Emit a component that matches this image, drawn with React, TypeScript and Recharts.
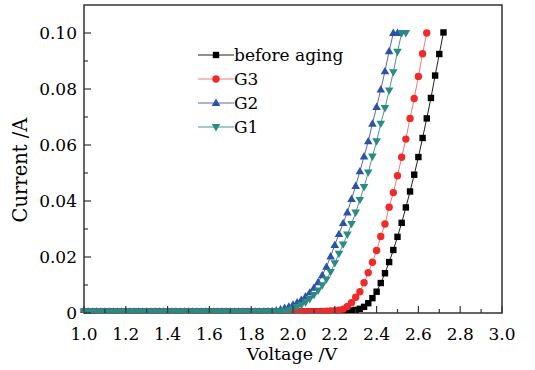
import React from 'react';
import { LineChart, Line, XAxis, YAxis, ReferenceArea, Legend } from 'recharts';

// voltage grid (V), one entry per measured point
const voltage = [
  1.0, 1.02, 1.04, 1.06, 1.08, 1.1, 1.12, 1.14, 1.16, 1.18,
  1.2, 1.22, 1.24, 1.26, 1.28, 1.3, 1.32, 1.34, 1.36, 1.38,
  1.4, 1.42, 1.44, 1.46, 1.48, 1.5, 1.52, 1.54, 1.56, 1.58,
  1.6, 1.62, 1.64, 1.66, 1.68, 1.7, 1.72, 1.74, 1.76, 1.78,
  1.8, 1.82, 1.84, 1.86, 1.88, 1.9, 1.92, 1.94, 1.96, 1.98,
  2.0, 2.02, 2.04, 2.06, 2.08, 2.1, 2.12, 2.14, 2.16, 2.18,
  2.2, 2.22, 2.24, 2.26, 2.28, 2.3, 2.32, 2.34, 2.36, 2.38,
  2.4, 2.42, 2.44, 2.46, 2.48, 2.5, 2.52, 2.54, 2.56, 2.58,
  2.6, 2.62, 2.64, 2.66, 2.68, 2.7, 2.72,
];

// current (A)
const beforeAging = [
  0.0005, 0.0005, 0.0005, 0.0005, 0.0005, 0.0005, 0.0005, 0.0005, 0.0005, 0.0005,
  0.0005, 0.0005, 0.0005, 0.0005, 0.0005, 0.0005, 0.0005, 0.0005, 0.0005, 0.0005,
  0.0005, 0.0005, 0.0005, 0.0005, 0.0005, 0.0005, 0.0005, 0.0005, 0.0005, 0.0005,
  0.0005, 0.0005, 0.0005, 0.0005, 0.0005, 0.0005, 0.0005, 0.0005, 0.0005, 0.0005,
  0.0005, 0.0005, 0.0005, 0.0005, 0.0005, 0.0005, 0.0005, 0.0005, 0.0005, 0.0005,
  0.0005, 0.0005, 0.0005, 0.0005, 0.0005, 0.0005, 0.0005, 0.0005, 0.0005, 0.0005,
  0.0005, 0.0005, 0.0006, 0.0007, 0.0009, 0.0011, 0.0015, 0.0022, 0.0035, 0.0053,
  0.0076, 0.0107, 0.0142, 0.0182, 0.0225, 0.0272, 0.0322, 0.0377, 0.0434, 0.0494,
  0.0557, 0.0625, 0.0695, 0.0768, 0.0848, 0.0925, 0.1002,
];

const g3 = [
  0.0005, 0.0005, 0.0005, 0.0005, 0.0005, 0.0005, 0.0005, 0.0005, 0.0005, 0.0005,
  0.0005, 0.0005, 0.0005, 0.0005, 0.0005, 0.0005, 0.0005, 0.0005, 0.0005, 0.0005,
  0.0005, 0.0005, 0.0005, 0.0005, 0.0005, 0.0005, 0.0005, 0.0005, 0.0005, 0.0005,
  0.0005, 0.0005, 0.0005, 0.0005, 0.0005, 0.0005, 0.0005, 0.0005, 0.0005, 0.0005,
  0.0005, 0.0005, 0.0005, 0.0005, 0.0005, 0.0005, 0.0005, 0.0005, 0.0005, 0.0005,
  0.0005, 0.0005, 0.0005, 0.0005, 0.0005, 0.0005, 0.0005, 0.0005, 0.0006, 0.0007,
  0.0008, 0.001, 0.0014, 0.0023, 0.0037, 0.0056, 0.0076, 0.0108, 0.0144, 0.0181,
  0.0223, 0.0273, 0.0318, 0.0378, 0.043, 0.049, 0.0556, 0.0621, 0.0695, 0.0766,
  0.0845, 0.0926, 0.1, null, null, null, null,
];

const g2 = [
  0.0005, 0.0005, 0.0005, 0.0005, 0.0005, 0.0005, 0.0005, 0.0005, 0.0005, 0.0005,
  0.0005, 0.0005, 0.0005, 0.0005, 0.0005, 0.0005, 0.0005, 0.0005, 0.0005, 0.0005,
  0.0005, 0.0005, 0.0005, 0.0005, 0.0005, 0.0005, 0.0005, 0.0005, 0.0005, 0.0005,
  0.0005, 0.0005, 0.0005, 0.0005, 0.0005, 0.0005, 0.0005, 0.0005, 0.0005, 0.0005,
  0.0005, 0.0005, 0.0005, 0.0005, 0.0006, 0.0007, 0.0009, 0.0013, 0.0018, 0.0023,
  0.003, 0.0038, 0.0047, 0.0059, 0.0073, 0.009, 0.011, 0.0135, 0.0165, 0.0202,
  0.0243, 0.0282, 0.0321, 0.0359, 0.0407, 0.0454, 0.0506, 0.0559, 0.0613, 0.0676,
  0.0736, 0.0798, 0.0863, 0.0935, 0.1, 0.1, null, null, null, null,
  null, null, null, null, null, null, null,
];

const g1 = [
  0.0005, 0.0005, 0.0005, 0.0005, 0.0005, 0.0005, 0.0005, 0.0005, 0.0005, 0.0005,
  0.0005, 0.0005, 0.0005, 0.0005, 0.0005, 0.0005, 0.0005, 0.0005, 0.0005, 0.0005,
  0.0005, 0.0005, 0.0005, 0.0005, 0.0005, 0.0005, 0.0005, 0.0005, 0.0005, 0.0005,
  0.0005, 0.0005, 0.0005, 0.0005, 0.0005, 0.0005, 0.0005, 0.0005, 0.0005, 0.0005,
  0.0005, 0.0005, 0.0005, 0.0005, 0.0005, 0.0005, 0.0005, 0.0005, 0.0006, 0.001,
  0.0015, 0.0021, 0.0029, 0.0038, 0.005, 0.0064, 0.008, 0.0099, 0.012, 0.0146,
  0.0178, 0.0212, 0.0245, 0.028, 0.0318, 0.0359, 0.0404, 0.045, 0.0502, 0.0559,
  0.0613, 0.0676, 0.0732, 0.0795, 0.086, 0.0933, 0.1, 0.1, null, null,
  null, null, null, null, null, null, null,
];

const xTicks = [
  1.0, 1.1, 1.2, 1.3, 1.4, 1.5, 1.6, 1.7, 1.8, 1.9, 2.0,
  2.1, 2.2, 2.3, 2.4, 2.5, 2.6, 2.7, 2.8, 2.9, 3.0,
];
const yTicks = [0, 0.01, 0.02, 0.03, 0.04, 0.05, 0.06, 0.07, 0.08, 0.09, 0.1];

const FONT = '"DejaVu Serif", serif';
const AXIS = '#333';
const TEXT = '#000';

const series = [
  { key: 'before', name: 'before aging', shape: 'square', color: '#000000', line: '#222222' },
  { key: 'g3', name: 'G3', shape: 'circle', color: '#ee2a2a', line: '#f07a6e' },
  { key: 'g2', name: 'G2', shape: 'up', color: '#2c52a8', line: '#5468b8' },
  { key: 'g1', name: 'G1', shape: 'down', color: '#2b8a83', line: '#45998f' },
];

const data = voltage.map((v, i) => ({
  v,
  before: beforeAging[i],
  g3: g3[i],
  g2: g2[i],
  g1: g1[i],
}));

const Marker = ({ shape, cx, cy, color }: any) => {
  if (shape === 'square') {
    return <rect x={cx - 3.2} y={cy - 3.2} width={6.4} height={6.4} fill={color} />;
  }
  if (shape === 'circle') {
    return <circle cx={cx} cy={cy} r={3.7} fill={color} />;
  }
  if (shape === 'up') {
    return <polygon points={`${cx},${cy - 4.4} ${cx - 4.3},${cy + 3} ${cx + 4.3},${cy + 3}`} fill={color} />;
  }
  return <polygon points={`${cx},${cy + 4.4} ${cx - 4.3},${cy - 3} ${cx + 4.3},${cy - 3}`} fill={color} />;
};

const makeDot = (shape: string, color: string) => (props: any) => {
  const { cx, cy, index, value } = props;
  if (cx == null || cy == null || value == null) return <g key={`d-${index}`} />;
  return (
    <g key={`d-${index}`}>
      <Marker shape={shape} cx={cx} cy={cy} color={color} />
    </g>
  );
};

const XTick = ({ x, y, payload }: any) => {
  const v = payload.value;
  const major = Math.round(v * 10) % 2 === 0;
  return (
    <g>
      <line x1={x} x2={x} y1={y} y2={y - (major ? 7 : 4)} stroke={AXIS} strokeWidth={1.2} />
      {major && (
        <text x={x} y={y + 27} textAnchor="middle" fontSize={17} fontFamily={FONT} fill={TEXT}>
          {v.toFixed(1)}
        </text>
      )}
    </g>
  );
};

const YTick = ({ x, y, payload }: any) => {
  const v = payload.value;
  const major = Math.round(v * 100) % 2 === 0;
  return (
    <g>
      <line x1={x} x2={x + (major ? 7 : 4)} y1={y} y2={y} stroke={AXIS} strokeWidth={1.2} />
      {major && (
        <text x={x - 7} y={y} dy={6} textAnchor="end" fontSize={17} fontFamily={FONT} fill={TEXT}>
          {v === 0 ? '0' : v.toFixed(2)}
        </text>
      )}
    </g>
  );
};

const renderLegend = () => (
  <div style={{ fontFamily: FONT, fontSize: 17, color: TEXT }}>
    {series.map((s) => (
      <div key={s.key} style={{ display: 'flex', alignItems: 'center', height: 24 }}>
        <svg width={36} height={12} style={{ display: 'block' }}>
          <line x1={0} x2={36} y1={6} y2={6} stroke={s.line} strokeWidth={1} />
          <Marker shape={s.shape} cx={18} cy={6} color={s.color} />
        </svg>
        <span style={{ lineHeight: '24px' }}>{s.name}</span>
      </div>
    ))}
  </div>
);

export default function App() {
  return (
    <div style={{ position: 'absolute', left: 0, top: 0, background: '#fff' }}>
      <LineChart
        width={535}
        height={370}
        data={data}
        margin={{ top: 5, right: 33, bottom: 0, left: 0 }}
      >
        <XAxis
          dataKey="v"
          type="number"
          domain={[1, 3]}
          ticks={xTicks}
          interval={0}
          tickSize={0}
          tickMargin={0}
          tickLine={false}
          axisLine={false}
          tick={<XTick />}
          height={57}
          label={() => (
            <text x={292} y={360} textAnchor="middle" fontSize={17.5} fontFamily={FONT} fill={TEXT}>
              Voltage /V
            </text>
          )}
        />
        <YAxis
          type="number"
          domain={[0, 0.11]}
          allowDataOverflow
          ticks={yTicks}
          interval={0}
          tickSize={0}
          tickMargin={0}
          tickLine={false}
          axisLine={false}
          tick={<YTick />}
          width={84}
          label={() => (
            <text
              x={20}
              y={170}
              transform="rotate(-90 20 170)"
              textAnchor="middle"
              dominantBaseline="central"
              fontSize={19.5}
              fontFamily={FONT}
              fill={TEXT}
            >
              Current /A
            </text>
          )}
        />
        <ReferenceArea x1={1} x2={3} y1={0} y2={0.11} fill="none" stroke={AXIS} strokeWidth={1.5} />
        {series.map((s) => (
          <Line
            key={s.key}
            dataKey={s.key}
            name={s.name}
            type="linear"
            stroke={s.line}
            strokeWidth={1}
            dot={makeDot(s.shape, s.color)}
            activeDot={false}
            isAnimationActive={false}
          />
        ))}
        <Legend
          content={renderLegend}
          layout="horizontal"
          verticalAlign="middle"
          align="center"
          wrapperStyle={{ left: 198, top: 43, width: 'auto' }}
        />
      </LineChart>
    </div>
  );
}
